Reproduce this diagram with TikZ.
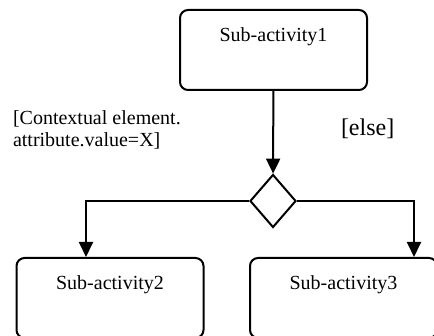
\documentclass[tikz,border=0pt]{standalone}
\usepackage{fontspec}
\setmainfont{Liberation Serif}
\usetikzlibrary{shapes.geometric, arrows.meta, positioning}

\begin{document}
\begin{tikzpicture}[x=0.5pt, y=-0.5pt, line width=1pt, >={Triangle[length=7.5pt,width=7pt]},
    act/.style={draw, rounded corners=4pt, minimum width=93.5pt, minimum height=40pt, text height=7pt, text depth=15pt, inner sep=0pt, font=\fontsize{10}{12}\selectfont},
    dec/.style={draw, diamond, minimum width=23pt, minimum height=26.5pt, inner sep=0pt},
    guard/.style={anchor=north west, align=left, inner sep=0pt}]
    \clip (0,0) rectangle (434,336);
    \node[act] (a1) at (273.5, 50)  {Sub-activity1};
    \node[dec] (d0) at (273, 201)   {};
    \node[act] (a2) at (110, 298)   {Sub-activity2};
    \node[act] (a3) at (343.5, 298) {Sub-activity3};
    \node[guard, font=\fontsize{10}{11}\selectfont] (g1) at (12, 110) {[Contextual element.\\attribute.value=X]};
    \node[guard, font=\fontsize{12}{14}\selectfont] (g2) at (340, 118) {[else]};

    \draw[->] (a1) -- (d0);
    \draw[->] (d0.west) -| ([xshift=-12pt]a2.north);
    \draw[->] (d0.east) -| ([xshift=35.25pt]a3.north);
\end{tikzpicture}
\end{document}
